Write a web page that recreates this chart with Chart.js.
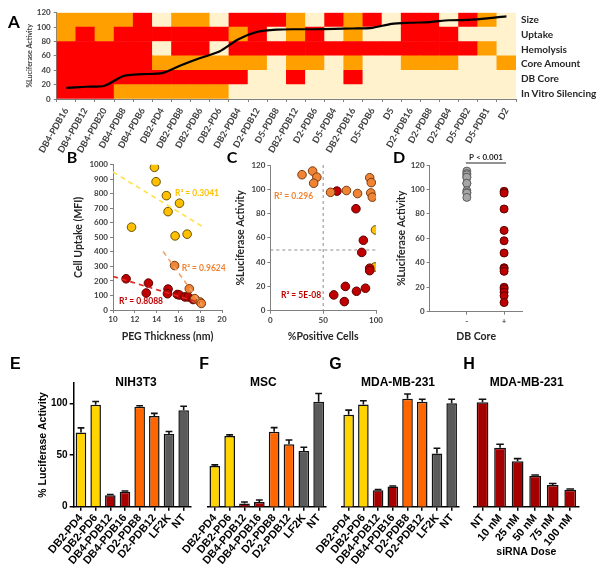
<!DOCTYPE html>
<html>
<head>
<meta charset="utf-8">
<script src="https://cdn.jsdelivr.net/npm/chart.js@4.4.1/dist/chart.umd.min.js"></script>
<style>
  body { margin: 0; background: #fff; width: 606px; height: 566px; position: relative; overflow: hidden; }
  canvas { position: absolute; }
  .t { position: absolute; white-space: nowrap; font-weight: bold; line-height: 1; }
</style>
</head>
<body>
<canvas id="chartA" width="522" height="160" style="left:0px;top:0px"></canvas>
<canvas id="chartB" width="162" height="197" style="left:68px;top:150px"></canvas>
<canvas id="chartC" width="155" height="197" style="left:229.7px;top:150px"></canvas>
<canvas id="chartD" width="139" height="197" style="left:391.4px;top:150px"></canvas>
<canvas id="chartE" width="162" height="191" style="left:33px;top:375px"></canvas>
<canvas id="chartF" width="150" height="191" style="left:180px;top:375px"></canvas>
<canvas id="chartG" width="149" height="191" style="left:314px;top:375px"></canvas>
<canvas id="chartH" width="139" height="187" style="left:446px;top:375px"></canvas>
<script>
// ---- A: formulation heat map + luciferase line
const compLabels = ['DB4-PDB16','DB4-PDB12','DB4-PDB20','DB4-PDB8','DB4-PDB6','DB2-PD4','DB2-PDB8','DB2-PDB6',
  'DB2-PD6','DB2-PDB4','D2-PDB12','D5-PDB8','DB2-PDB12','D2-PDB6','D5-PDB4','DB2-PDB16','D5-PDB6','D5',
  'D2-PDB16','D2-PDB8','D2-PDB4','D5-PDB2','D5-PDB1','D2'];
const compActivity = [15.5,17,18.5,32,34.5,36,47,57,66,83,93.5,96.5,97,97,97.5,98,99,104.5,106,107,109.5,110,112,115];
// 2 = red, 1 = orange, 0 = cream
const sizeLevel    = [1,1,1,1,2,0,1,1,0,2,2,2,1,0,2,1,2,0,2,2,0,2,1,0];
const uptakeLevel  = [1,2,1,2,2,2,2,2,2,1,2,0,1,2,0,1,0,0,2,2,2,0,0,0];
const hemoLevel    = [2,2,2,2,2,0,2,2,0,2,2,2,2,2,2,2,2,2,2,2,2,2,1,0];
const coreLevel    = [2,2,2,2,2,1,1,1,1,1,1,0,1,1,0,1,0,0,1,1,1,0,0,1];
const dbCoreLevel  = [2,2,2,2,2,2,2,2,2,2,0,0,2,0,0,2,0,0,0,0,0,0,0,0];
const silenceLevel = [2,2,2,1,1,1,1,1,1,0,0,0,0,0,0,0,0,0,0,0,0,0,0,0];
const rowNames = ['Size','Uptake','Hemolysis','Core Amount','DB Core','In Vitro Silencing'];

// ---- B: PEG thickness vs uptake
const pegYellowX = [13.8,13.95,14.9,15.05,16.1,11.7,15.7,16.8];
const pegYellowY = [982,883,787,677,735,570,510,522];
const pegOrangeX = [15.65,17.0,17.5,18.0,18.1];
const pegOrangeY = [306,146,78,55,45];
const pegRedX = [11.2,13.25,13.05,15.05,15.0,15.9,16.1,16.6,16.9,17.35];
const pegRedY = [215,185,117,144,112,107,103,90,90,72];
const trendYellow = [[10,950],[18.3,570]];
const trendOrange = [[14.6,402],[18.2,30]];
const trendRed = [[10,231],[18,50]];

// ---- C: % positive cells vs luciferase
const posOrangeX = [30,40,44,41,57,72,82.5,94,95.5,95,96.5];
const posOrangeY = [112,115,110,105,97.5,99,96.5,109.5,105.5,97,93.5];
const posRedX = [63,81,88,86.5,94,94,71,60,70,81.5,90];
const posRedY = [98.5,84,58,48,35,33,20,13,7.5,16,18.5];
const posYellowX = [99.5,99];
const posYellowY = [66.5,36];

// ---- D: DB core
const coreTicks = ['-','+'];
const coreMinus = [115,113,112,110,110,105,105,99,97.5,97,93.5];
const corePlus = [98.5,97,84,66.5,58,48,36,35,33,20,18.5,16,13,7.5];

// ---- E-H: bar panels
const barLabels = ['DB2-PD4','DB2-PD6','DB4-PDB12','DB4-PDB16','D2-PDB8','D2-PDB12','LF2K','NT'];
const nihMean = [72,99,11,14.5,97,88,70.5,93.5];
const nihErr  = [4.5,3,0.8,0.8,1,2.5,2.5,4];
const mscMean = [39.5,68.5,3,4.5,72.5,60.5,54,101.5];
const mscErr  = [1,1,1.5,2,4,4,3.5,8];
const mdaMean = [89,99,16,19.5,104.5,101.5,51.5,100];
const mdaErr  = [4.5,3.5,0.5,0.5,4.5,2.5,5,4];
const doseLabels = ['NT','10 nM','25 nM','50 nM','75 nM','100 nM'];
const doseMean = [101,57,44,30,21,16.5];
const doseErr  = [3,3.5,2.5,0.7,1.5,0.7];

const levelColors = ['#FFF2CC','#FF9F00','#FF0000'];
const barColors = ['#FFD400','#FFD400','#A80000','#A80000','#FF6600','#FF6600','#5B5B5B','#5B5B5B'];
const XL = 'Lato', GP = 'Liberation Sans';

function label(text, x, y, size, family, color, align) {
  const d = document.createElement('div');
  d.className = 't';
  d.textContent = text;
  d.style.fontSize = size + 'px';
  d.style.fontFamily = family;
  d.style.color = color || '#000';
  d.style.top = (y - size / 2) + 'px';
  d.style.left = x + 'px';
  if (align === 'center') d.style.transform = 'translateX(-50%)';
  document.body.appendChild(d);
}

const base = {
  responsive: false,
  animation: false,
  events: [],
  plugins: { legend: { display: false }, tooltip: { enabled: false } }
};

// ---------- A ----------
const heatRows = [silenceLevel, dbCoreLevel, coreLevel, hemoLevel, uptakeLevel, sizeLevel];
new Chart(document.getElementById('chartA'), {
  type: 'bar',
  data: {
    labels: compLabels,
    datasets: [
      { type: 'line', data: compActivity, borderColor: '#000', borderWidth: 2.2, pointRadius: 0,
        tension: 0.25, stack: 'line', order: 0 }
    ].concat(heatRows.map(levels => ({
      data: levels.map(() => 120 / heatRows.length),
      backgroundColor: levels.map(l => levelColors[l]),
      stack: 'heat', order: 1, barPercentage: 1, categoryPercentage: 1, borderWidth: 0
    })))
  },
  options: Object.assign({}, base, {
    layout: { padding: { top: 12.7, right: 6, left: 0, bottom: 0 } },
    scales: {
      x: {
        stacked: true,
        afterFit: s => { s.height = 61; },
        ticks: { autoSkip: false, minRotation: 60, maxRotation: 60, padding: 4, color: '#404040',
          font: { family: XL, weight: 'bold', size: 9 } },
        grid: { offset: true, drawOnChartArea: false, tickLength: 3, color: '#808080' },
        border: { color: '#808080' }
      },
      y: {
        stacked: true, min: 0, max: 120,
        afterFit: s => { s.width = 56.7; },
        ticks: { stepSize: 20, includeBounds: false, padding: 3, color: '#404040',
          font: { family: XL, weight: 'bold', size: 8 } },
        grid: { drawOnChartArea: false, tickLength: 3, color: '#808080' },
        border: { color: '#808080' },
        title: { display: true, text: '%Luciferase Activity', color: '#404040',
          font: { family: XL, weight: 'bold', size: 7 }, padding: { top: 25.8, bottom: 0 } }
      }
    }
  })
});
const rowY = [19, 34, 48.5, 63, 78, 93];
rowNames.forEach((n, i) => label(n, 521, rowY[i], 10, XL, '#262626'));

// ---------- shared bits for B-D ----------
function pts(xs, ys) { return xs.map((x, i) => ({ x: x, y: ys[i] })); }
function xlAxis(min, max, step, size, titleText, extra) {
  return Object.assign({
    type: 'linear', min: min, max: max,
    afterFit: s => { if (s.isHorizontal()) s.height = size; else s.width = size; },
    ticks: { stepSize: step, includeBounds: false, padding: 2, color: '#404040',
      font: { family: XL, weight: 'bold', size: 8 }, callback: v => String(v) },
    grid: { drawOnChartArea: false, tickLength: 3, color: '#808080' },
    border: { color: '#808080' },
    title: { display: true, text: titleText, color: '#262626',
      font: { family: XL, weight: 'bold', size: 10.5 }, padding: { top: 4, bottom: 4 } }
  }, extra || {});
}
function dots(data, fill, edge, r) {
  return { data: data, backgroundColor: fill, borderColor: edge, borderWidth: 1, pointRadius: r || 4.3 };
}
function trend(pair, color) {
  return { data: pair.map(p => ({ x: p[0], y: p[1] })), showLine: true, pointRadius: 0,
    borderColor: color, borderWidth: 1.6, borderDash: [5, 4] };
}

// ---------- B ----------
new Chart(document.getElementById('chartB'), {
  type: 'scatter',
  data: {
    datasets: [
      trend(trendYellow, '#FFE04A'),
      trend(trendOrange, '#F4A066'),
      trend(trendRed, '#E02424'),
      dots(pts(pegYellowX, pegYellowY), '#FFC000', '#6B5000'),
      dots(pts(pegOrangeX, pegOrangeY), '#EE8434', '#7A3B0F'),
      dots(pts(pegRedX, pegRedY), '#C00000', '#5A0000')
    ]
  },
  options: Object.assign({}, base, {
    layout: { padding: { top: 14.7, right: 8, left: 0, bottom: 0 } },
    scales: {
      x: xlAxis(10, 20, 2, 37, 'PEG Thickness (nm)'),
      y: xlAxis(0, 1000, 100, 45, 'Cell Uptake (MFI)')
    }
  })
});
label('R\u00b2 = 0.3041', 175, 193, 8.5, XL, '#FFC000');
label('R\u00b2 = 0.9624', 181.7, 267.8, 8.5, XL, '#EE8434');
label('R\u00b2 = 0.8088', 119, 301, 8.5, XL, '#C00000');

// ---------- C ----------
const quadLines = {
  id: 'quadLines',
  beforeDatasetsDraw(chart) {
    const { ctx, chartArea: a, scales: { x, y } } = chart;
    const px = x.getPixelForValue(50), py = y.getPixelForValue(50);
    ctx.save();
    ctx.setLineDash([3, 3]);
    ctx.strokeStyle = '#8c8c8c';
    ctx.lineWidth = 1;
    ctx.beginPath();
    ctx.moveTo(px, a.top); ctx.lineTo(px, a.bottom);
    ctx.moveTo(a.left, py); ctx.lineTo(a.right + 2, py);
    ctx.stroke();
    ctx.restore();
  }
};
new Chart(document.getElementById('chartC'), {
  type: 'scatter',
  data: {
    datasets: [
      dots(pts(posOrangeX, posOrangeY), '#EE8434', '#7A3B0F'),
      dots(pts(posRedX, posRedY), '#C00000', '#5A0000'),
      dots(pts(posYellowX, posYellowY), '#FFC000', '#6B5000')
    ]
  },
  options: Object.assign({}, base, {
    layout: { padding: { top: 15, right: 6.7, left: 0, bottom: 0 } },
    scales: {
      x: xlAxis(0, 100, 50, 36.3, '%Positive Cells'),
      y: xlAxis(0, 120, 20, 40.3, '%Luciferase Activity')
    }
  }),
  plugins: [quadLines]
});
label('R\u00b2 = 0.296', 274, 196.7, 8.5, XL, '#EE8434');
label('R\u00b2 = 5E-08', 281, 295.7, 8.5, XL, '#C00000');

// ---------- D ----------
const pBracket = {
  id: 'pBracket',
  afterDraw(chart) {
    const { ctx, chartArea: a, scales: { x } } = chart;
    const x1 = x.getPixelForValue(1) - 1, x2 = x.getPixelForValue(2) + 2;
    const y = a.top - 2;
    ctx.save();
    ctx.strokeStyle = '#262626';
    ctx.lineWidth = 1.2;
    ctx.beginPath(); ctx.moveTo(x1, y); ctx.lineTo(x2, y); ctx.stroke();
    ctx.fillStyle = '#262626';
    ctx.font = 'bold 8px Lato';
    ctx.textAlign = 'center';
    ctx.textBaseline = 'bottom';
    ctx.fillText('P < 0.001', (x1 + x2) / 2, y - 2);
    ctx.restore();
  }
};
const dX = xlAxis(0, 2.5, 1, 35.3, 'DB Core', {
  afterBuildTicks: s => { s.ticks = [{ value: 1 }, { value: 2 }]; }
});
dX.ticks = Object.assign({}, dX.ticks, { callback: (v, i) => coreTicks[i] });
new Chart(document.getElementById('chartD'), {
  type: 'scatter',
  data: {
    datasets: [
      dots(coreMinus.map(v => ({ x: 1, y: v })), '#A6A6A6', '#5F5F5F', 4),
      dots(corePlus.map(v => ({ x: 2, y: v })), '#C00000', '#5A0000', 4)
    ]
  },
  options: Object.assign({}, base, {
    layout: { padding: { top: 15, right: 7.3, left: 0, bottom: 0 } },
    scales: {
      x: dX,
      y: xlAxis(0, 120, 20, 38.6, '%Luciferase Activity')
    }
  }),
  plugins: [pBracket]
});

// ---------- E-H ----------
const errorBars = {
  id: 'errorBars',
  afterDatasetsDraw(chart, args, opts) {
    const errs = opts.errors;
    const meta = chart.getDatasetMeta(0);
    const vals = chart.data.datasets[0].data;
    const y = chart.scales.y;
    const ctx = chart.ctx;
    ctx.save();
    ctx.strokeStyle = '#111';
    ctx.lineWidth = 1.6;
    meta.data.forEach((bar, i) => {
      const top = y.getPixelForValue(vals[i] + errs[i]);
      const half = bar.width * 0.32;
      ctx.beginPath();
      ctx.moveTo(bar.x, bar.y); ctx.lineTo(bar.x, top);
      ctx.moveTo(bar.x - half, top); ctx.lineTo(bar.x + half, top);
      ctx.stroke();
    });
    ctx.restore();
  }
};
function barPanel(id, labels, means, errs, colors, opt) {
  new Chart(document.getElementById(id), {
    type: 'bar',
    data: {
      labels: labels,
      datasets: [{ data: means, backgroundColor: colors, borderColor: '#111', borderWidth: 1.5,
        barPercentage: opt.barPct, categoryPercentage: 1 }]
    },
    options: Object.assign({}, base, {
      layout: { padding: { top: 7.7, right: opt.right, left: 0, bottom: 0 } },
      plugins: { legend: { display: false }, tooltip: { enabled: false }, errorBars: { errors: errs } },
      scales: {
        x: {
          afterFit: s => { s.height = opt.xh; },
          ticks: { autoSkip: false, minRotation: 50, maxRotation: 50, padding: 1, color: '#000',
            font: { family: GP, weight: 'bold', size: 11 } },
          grid: { offset: false, drawOnChartArea: false, tickLength: 4, color: '#000', lineWidth: 1.5 },
          border: { color: '#000', width: 1.5 },
          title: { display: !!opt.xTitle, text: opt.xTitle || '', color: '#000',
            font: { family: GP, weight: 'bold', size: 10.5 }, padding: { top: 0, bottom: 4 } }
        },
        y: {
          min: 0, max: 120,
          afterFit: s => { s.width = opt.yw; },
          ticks: { display: opt.showY, stepSize: 50, includeBounds: false, padding: 2, color: '#000',
            font: { family: GP, weight: 'bold', size: 10 } },
          grid: { display: opt.showY, drawOnChartArea: false, tickLength: 4, color: '#000', lineWidth: 1.5 },
          border: { display: opt.showY, color: '#000', width: 1.5 },
          title: { display: opt.showY, text: '% Luciferase Activity', color: '#000',
            font: { family: GP, weight: 'bold', size: 10.5 }, padding: { top: 4, bottom: 0 } }
        }
      }
    }),
    plugins: [errorBars]
  });
}
barPanel('chartE', barLabels, nihMean, nihErr, barColors, { barPct: 0.72, right: 3.8, xh: 59.3, yw: 40.65, showY: true });
barPanel('chartF', barLabels, mscMean, mscErr, barColors, { barPct: 0.72, right: 3.8, xh: 59.3, yw: 27.4, showY: false });
barPanel('chartG', barLabels, mdaMean, mdaErr, barColors, { barPct: 0.72, right: 3.7, xh: 59.3, yw: 27.3, showY: false });
barPanel('chartH', doseLabels, doseMean, doseErr, doseLabels.map(() => '#A50000'),
  { barPct: 0.67, right: 6, xh: 55.3, yw: 27.75, showY: false, xTitle: 'siRNA Dose' });

// panel letters and titles
label('A', 8, 21, 17, XL);
label('B', 66.7, 157, 16, XL);
label('C', 226.7, 157, 16, XL);
label('D', 393, 157, 16, XL);
label('E', 10, 364, 16, GP);
label('F', 199.3, 364, 16, GP);
label('G', 329.3, 364, 16, GP);
label('H', 463.3, 364, 16, GP);
label('NIH3T3', 136, 381.7, 12, GP, '#000', 'center');
label('MSC', 263.3, 381.7, 12, GP, '#000', 'center');
label('MDA-MB-231', 398, 381.7, 12, GP, '#000', 'center');
label('MDA-MB-231', 526.7, 381.7, 12, GP, '#000', 'center');
</script>
</body>
</html>
